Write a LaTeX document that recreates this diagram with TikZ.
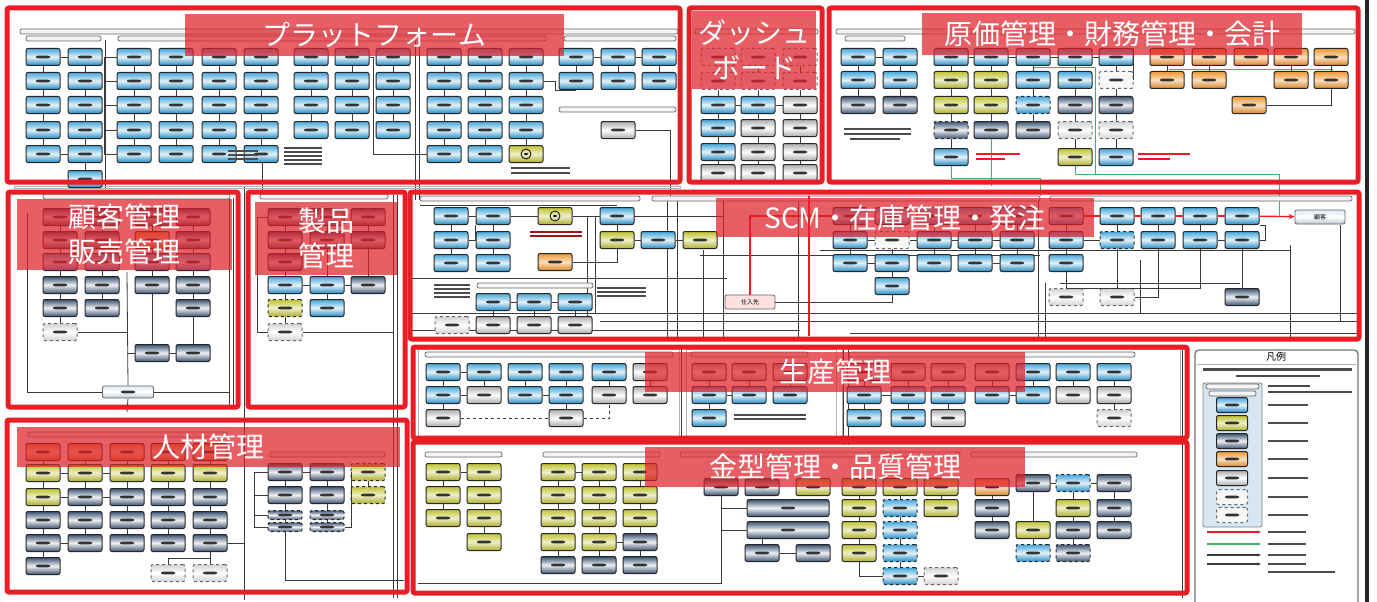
\documentclass[tikz,border=0pt]{standalone}
\usepackage{fontspec}
\setmainfont{Noto Sans CJK JP}
\usetikzlibrary{arrows.meta,calc}
\pgfdeclarelayer{bg}
\pgfsetlayers{bg,main}
\definecolor{frc}{HTML}{E61E25}
\definecolor{bnc}{HTML}{E0202A}
\definecolor{blc}{HTML}{2496D4}
\definecolor{yec}{HTML}{BFC22E}
\definecolor{nvc}{HTML}{3B5272}
\definecolor{orc}{HTML}{EE9530}
\definecolor{gyc}{HTML}{ACACAC}
\definecolor{lnc}{HTML}{3A3A3A}
\definecolor{grc}{HTML}{3DB36B}
\definecolor{lbc}{HTML}{D6E6F2}
\tikzset{
 x=1pt,y=-1pt,
 fake/.style={path picture={\fill[black!80] ($(path picture bounding box.center)+(-7,-1.3)$) rectangle ($(path picture bounding box.center)+(7,1.3)$);}},
 bx/.style={draw=black!85, line width=1pt, rounded corners=2pt, minimum width=34pt, minimum height=17pt, inner sep=0pt, fake},
 B/.style={bx, top color=blc!85, bottom color=blc!92!black, middle color=blc!12},
 Y/.style={bx, top color=yec, bottom color=yec!90!black, middle color=yec!25},
 N/.style={bx, top color=nvc, bottom color=nvc, middle color=white!92!nvc},
 O/.style={bx, top color=orc, bottom color=orc!90!black, middle color=orc!30},
 G/.style={bx, top color=gyc, bottom color=gyc, middle color=white},
 W/.style={bx, dashed, draw=black!60, fill=gray!6},
 D/.style={bx, dashed, draw=black!60, top color=gray!35, bottom color=gray!35, middle color=white},
 DB/.style={B, dashed},
 DN/.style={N, dashed},
 DY/.style={Y, dashed},
 Ns/.style={DN, minimum height=9pt},
 Nw/.style={N, minimum width=82pt},
 YC/.style={bx, top color=yec, bottom color=yec!90!black, middle color=yec!25,
   path picture={\draw[black, line width=0.8pt] (path picture bounding box.center) circle (5pt);
   \fill[black] ($(path picture bounding box.center)+(-2,-1)$) rectangle ($(path picture bounding box.center)+(2,1)$);}},
 supp/.style={draw=black!60, line width=0.8pt, rounded corners=2pt, fill=red!12, minimum width=50pt, minimum height=14pt, inner sep=0pt, font=\fontsize{6}{7}\selectfont},
 cust/.style={supp, top color=lbc!80, bottom color=lbc!70!gray, middle color=white},
 cn/.style={draw=lnc, line width=0.8pt},
 gl/.style={draw=grc, line width=1pt},
 rl/.style={draw=frc, line width=1.4pt},
 frm/.style={draw=frc, line width=5pt, rounded corners=2pt},
 ban/.style={fill=bnc, fill opacity=0.72, text opacity=1, text=white, inner sep=0pt, font=\fontsize{28}{35}\selectfont, align=center},
 hbar/.style={draw=black!60, fill=gray!8, line width=0.7pt, rounded corners=2pt},
 gfr/.style={draw=gray!60, line width=0.8pt},
 ftx/.style={fill=black!70},
}
\newcommand\bcol[3]{%
  \foreach \yy/\st [count=\k] in {#3}{%
    \node[\st] (#1-\k) at (#2,\yy) {};
    \ifnum\k>1
      \pgfmathtruncatemacro\pk{\k-1}%
      \draw[cn] (#1-\pk) -- (#1-\k);
    \fi
  }}
\newcommand\wire[3]{\coordinate (#1a) at (#2); \coordinate (#1b) at (#3); \draw[cn] (#1a) -- (#1b);}
\begin{document}
\begin{tikzpicture}
\useasboundingbox (0,0) rectangle (1377,602);
\begin{pgfonlayer}{bg}
\fill[white] (0,0) rectangle (1377,602);
\end{pgfonlayer}

% ---------- header bars ----------
\draw[hbar] (20,29) rectangle (678,34);
\draw[hbar] (26,36) rectangle (101,41);
\draw[hbar] (118,36) rectangle (546,41);
\draw[hbar] (564,36) rectangle (676,41);
\draw[hbar] (559,107) rectangle (676,112);
\draw[hbar] (695,29) rectangle (818,34);
\draw[hbar] (836,29) rectangle (1355,34);
\draw[hbar] (845,36) rectangle (905,41);
\draw[hbar] (43,194) rectangle (230,199);
\draw[hbar] (260,194) rectangle (388,199);
\draw[hbar] (420,196) rectangle (640,201);
\draw[hbar] (652,196) rectangle (1040,201);
\draw[hbar] (1050,196) rectangle (1352,201);
\draw[hbar] (477,283) rectangle (593,288);
\draw[hbar] (425,352) rectangle (673,357);
\draw[hbar] (691,352) rectangle (808,357);
\draw[hbar] (849,352) rectangle (1135,357);
\draw[hbar] (425,452) rectangle (502,457);
\draw[hbar] (543,452) rectangle (660,457);
\draw[hbar] (680,452) rectangle (960,457);
\draw[hbar] (971,452) rectangle (1137,457);
\draw[hbar] (28,432) rectangle (227,437);
\draw[hbar] (270,452) rectangle (385,457);

% gray group frames
\draw[gfr] (418,349) rectangle (679,437);
\draw[gfr] (686,349) rectangle (836,437);
\draw[gfr] (842,349) rectangle (1180,437);
\draw[gfr] (14,186) rectangle (680,188);

% ---------- platform ----------
\bcol{P1}{43}{57/B,81/B,105/B,130/B,154/B}
\bcol{P2}{85}{57/B,81/B,105/B,130/B,154/B,179/B}
\bcol{P3}{134}{57/B,81/B,105/B,130/B,154/B}
\bcol{P4}{176}{57/B,81/B,105/B,130/B,154/B}
\bcol{P5}{219}{57/B,81/B,105/B,130/B,154/B}
\bcol{P6}{261}{57/B,81/B,105/B,130/B,154/B}
\bcol{P7}{311}{57/B,81/B,105/B,130/B}
\bcol{P8}{352}{57/B,81/B,105/B,130/B}
\bcol{P9}{393}{57/B,81/B,105/B,130/B}
\bcol{P10}{444}{57/B,81/B,105/B,130/B,154/B}
\bcol{P11}{485}{57/B,81/B,105/B,130/B,154/B}
\bcol{P12}{526}{57/B,81/B,105/B,130/B,154/YC}
\bcol{P13}{576}{57/B,81/B}
\bcol{P14}{618}{57/B,81/B}
\bcol{P15}{659}{57/B,81/B}
\node[G] (P16) at (618,130) {};
\draw[cn] (P1-1) -- (P2-1);
\draw[cn] (P1-5) -- (P2-5);
\draw[cn] (P13-1) -- (P14-1);
\draw[cn] (P14-1) -- (P15-1);
\draw[cn] (P3-1.west) -- ++(-12,0) |- (P3-5.west);
\draw[cn] (P3-2.west) -- ++(-12,0);
\draw[cn] (P3-3.west) -- ++(-12,0);
\draw[cn] (P3-4.west) -- ++(-12,0);
\draw[cn] (P8-1.east) -- ++(4,0) |- (P10-5.west);
\draw[cn] (P12-2.east) -- ++(12,0) |- (P13-2.south);
\foreach \yy in {147,151,155,159,163}{\fill[ftx] (284,\yy) rectangle (322,\yy+2);}
\foreach \yy in {167,172}{\fill[ftx] (511,\yy) rectangle (570,\yy+2);}
\foreach \yy in {150,154,158}{\fill[ftx] (228,\yy) rectangle (258,\yy+2);}

% ---------- dashboard ----------
\bcol{D1}{718}{57/W,81/W,105/B,128/B,152/B,173/G}
\bcol{D2}{758}{57/W,81/W,105/B,128/G,152/G,173/G}
\bcol{D3}{800}{57/W,81/W,105/G,128/G,152/G,173/G}
\draw[cn] (D1-3) -- (D2-3);
\draw[cn] (D2-3) -- (D3-3);

% ---------- cost / finance ----------
\bcol{C1}{858}{57/B,80/B,105/N}
\bcol{C2}{900}{57/B,80/B,105/N}
\bcol{C3}{951}{57/B,80/Y,105/Y,130/DN,157/B}
\bcol{C4}{991}{57/B,80/Y,105/Y,130/N}
\bcol{C5}{1033}{57/B,80/B,105/DB,130/N}
\bcol{C6}{1075}{57/B,80/B,105/N,130/D,157/Y}
\bcol{C7}{1116}{57/B,80/W,105/N,130/D,157/B}
\bcol{C8}{1167}{57/O,80/O}
\bcol{C9}{1209}{57/O,80/O}
\node[O] (C10) at (1251,57) {};
\bcol{C11}{1291}{57/O,80/O}
\bcol{C12}{1331}{57/O,80/O}
\node[O] (C13) at (1249,105) {};
\draw[cn] (C1-1) -- (C2-1);
\draw[cn] (C3-1) -- (C4-1);
\draw[cn] (C4-1) -- (C5-1);
\draw[cn] (C5-1) -- (C6-1);
\draw[cn] (C6-1) -- (C7-1);
\draw[cn] (C13.east) -| (C12-2.south);
\draw[cn] (C7-2.east) -| (C7-1.north east);
\foreach \yy in {128,133}{\fill[ftx] (844,\yy) rectangle (911,\yy+2);}
\foreach \yy in {138}{\fill[ftx] (850,\yy) rectangle (900,\yy+2);}
\fill[frc] (976,153) rectangle (1020,155);
\fill[frc] (976,158) rectangle (1005,160);
\fill[frc] (1138,153) rectangle (1190,155);
\fill[frc] (1138,158) rectangle (1170,160);

% ---------- customer / sales ----------
\bcol{A1}{60}{217/N,240/N,262/B,285/N,308/N,332/D}
\bcol{A2}{102}{217/N,240/N,262/B,285/N,308/N}
\bcol{A3}{152}{217/N,240/O,262/B,285/N,353/N}
\bcol{A4}{193}{217/N,240/N,262/B,285/N,308/N,353/N}
\node[cust, fake, minimum width=51pt, minimum height=12pt] (A5) at (128,392) {};
\draw[cn] (A3-5) -- (A4-6);

% ---------- product ----------
\bcol{E1}{285}{217/N,240/N,262/N,285/B,308/DY,332/D}
\bcol{E2}{327}{217/N,240/N,285/B,308/B}
\bcol{E3}{368}{217/N,240/N,285/N}
\draw[cn] (E1-4) -- (E2-3);
\draw[cn] (E2-3) -- (E3-3);

% ---------- SCM ----------
\bcol{S1}{451}{216/B,240/B,263/B}
\bcol{S2}{493}{216/B,240/B,263/B}
\node[YC] (S3) at (555,216) {};
\node[O] (S4) at (555,262) {};
\bcol{S5}{617}{216/B,240/Y}
\node[B] (S6) at (658,240) {};
\node[Y] (S7) at (700,240) {};
\bcol{S8}{493}{302/B,325/G}
\bcol{S9}{534}{302/B,325/G}
\bcol{S10}{575}{302/B,325/G}
\node[D] (S11) at (452,325) {};
\node[supp] (S12) at (750,302) {仕入先};
\bcol{S13}{850}{216/B,240/B,263/B}
\bcol{S14}{892}{216/B,240/W,263/B,286/B}
\bcol{S15}{934}{216/B,240/B,263/B}
\bcol{S16}{975}{216/B,240/B,263/B}
\bcol{S17}{1017}{216/B,240/B,263/B}
\bcol{S18}{1066}{216/B,240/B,263/B,297/D}
\bcol{S19}{1117}{216/B,240/DB,297/D}
\bcol{S20}{1158}{216/B,240/B}
\bcol{S21}{1200}{216/B,240/B}
\bcol{S22}{1242}{216/B,240/B,297/N}
\node[cust] (S23) at (1320,217) {顧客};
\draw[cn] (S1-1) -- (S2-1);
\draw[cn] (S1-2) -| (S2-1.south west);
\draw[cn] (S2-1) -- (S3);
\draw[cn] (S3) -- (S5-1);
\draw[cn] (S5-2) -- (S6);
\draw[cn] (S6) -- (S7);
\draw[cn] (S8-1) -- (S9-1);
\draw[cn] (S9-1) -- (S10-1);
\draw[cn] (S4.east) -| (S5-2.south);
\draw[cn] (S13-2) -- (S14-2);
\draw[cn] (S14-2) -- (S15-2);
\draw[cn] (S15-2) -- (S16-2);
\draw[cn] (S16-2) -- (S17-2);
\draw[cn] (S13-3) -- (S14-3);
\draw[cn] (S16-3) -- (S17-3);
\draw[cn] (S12.east) -| (S14-4.south);
\draw[cn] (S18-2) -- (S19-2);
\draw[cn] (S21-2) -- (S22-2);
\draw[cn] (S22-2.east) -- ++(6,0) |- (S22-1.south east);
\draw[cn] (S20-2.south) |- (S19-3.east);
\draw[cn] (S21-2.south) |- (S18-4.north);
\foreach \yy in {231,235}{\fill[frc!70!black] (530,\yy) rectangle (582,\yy+2);}
\foreach \yy in {284,288,292,296}{\fill[ftx] (434,\yy) rectangle (470,\yy+2);}
\foreach \yy in {287,291,295}{\fill[ftx] (597,\yy) rectangle (646,\yy+2);}
\draw[rl] (S18-1) -- (S19-1);
\draw[rl] (S19-1) -- (S20-1);
\draw[rl] (S20-1) -- (S21-1);
\draw[rl] (S21-1) -- (S22-1);
\draw[rl,-{Stealth[length=6pt,width=5pt]}] (S22-1) -- (S23);
\draw[rl] (S12.north) |- (S13-1.west);

% ---------- production ----------
\bcol{M1}{443}{372/B,395/B,418/G}
\bcol{M2}{484}{372/B,395/G}
\bcol{M3}{525}{372/B,395/B}
\bcol{M4}{566}{372/B,395/B,418/G}
\bcol{M5}{609}{372/B,395/G}
\bcol{M6}{650}{372/G,395/G}
\bcol{M7}{709}{372/G,395/B,418/B}
\bcol{M8}{749}{372/G,395/B}
\bcol{M9}{790}{372/G,395/B}
\bcol{M10}{864}{372/G,395/B,418/B}
\bcol{M11}{908}{372/G,395/B,418/B}
\bcol{M12}{948}{372/G,395/B,418/G}
\bcol{M13}{992}{372/G,395/B}
\bcol{M14}{1033}{372/B,395/B}
\bcol{M15}{1073}{372/B,395/G}
\bcol{M16}{1114}{372/B,395/G,418/D}
\draw[cn] (M1-1) -- (M2-1);
\draw[cn] (M1-2) -- (M2-2);
\draw[cn] (M3-2) -- (M4-2);
\draw[cn,dashed] (M1-3) -- (M4-3);
\draw[cn,dashed] (M4-3) -| (M5-2);
\draw[cn] (M7-2) -- (M8-2);
\draw[cn] (M10-2) -- (M11-2);
\draw[cn] (M13-2) -- (M14-2);
\foreach \yy in {414,418}{\fill[ftx] (734,\yy) rectangle (806,\yy+2);}

% ---------- mold / quality ----------
\bcol{K1}{443}{472/Y,495/Y,518/Y}
\bcol{K2}{484}{472/Y,495/Y,518/Y,542/Y}
\bcol{K3}{558}{472/Y,495/Y,518/Y,542/Y,565/N}
\bcol{K4}{599}{472/Y,495/Y,518/Y,542/Y,565/N}
\bcol{K5}{640}{472/Y,495/Y,518/Y,542/N,565/N}
\node[N] (K6) at (721,487) {};
\node[N] (K7) at (762,487) {};
\node[Y] (K8) at (813,487) {};
\node[Nw] (K9) at (788,508) {};
\node[Nw] (K10) at (788,530) {};
\node[N] (K11) at (762,553) {};
\node[N] (K12) at (813,553) {};
\bcol{K13}{859}{487/Y,508/Y,530/Y,553/Y}
\bcol{K14}{900}{487/Y,508/DB,530/DB,553/DB,576/DB}
\bcol{K15}{941}{487/Y,508/Y}
\node[D] (K16) at (941,576) {};
\bcol{K17}{992}{487/O,508/N,530/N}
\bcol{K18}{1033}{483/N,530/Y,553/DB}
\bcol{K19}{1073}{483/DB,508/Y,530/N,553/DN}
\bcol{K20}{1114}{483/N,508/N,530/N}
\draw[cn] (K1-1) -- (K2-1);
\draw[cn] (K3-1) -- (K4-1);
\draw[cn] (K4-4) -- (K5-4);
\draw[cn] (K6.south) |- (K9.west);
\draw[cn] (K6.south) |- (K10.west);
\draw[cn] (K11) -- (K12);
\draw[cn] (K10.south -| K11) -- (K11);
\draw[cn] (K13-4.south) |- (K14-5.west);
\draw[cn] (K14-5) -- (K16);
\draw[cn] (K18-1) -- (K19-1);
\draw[cn] (K19-1) -- (K20-1);

% ---------- HR ----------
\bcol{H1}{43}{452/O,473/Y,497/Y,520/N,543/N,566/N}
\bcol{H2}{85}{452/O,473/Y,497/N,520/N,543/N}
\bcol{H3}{127}{452/O,473/Y,497/N,520/N,543/N}
\bcol{H4}{168}{452/O,473/Y,497/N,520/N,543/N}
\bcol{H5}{210}{452/O,473/Y,497/N,520/N,543/N}
\node[D] (H6) at (168,573) {};
\node[D] (H7) at (210,573) {};
\bcol{H8}{285}{472/N,495/N,515/Ns,527/Ns}
\bcol{H9}{327}{472/N,495/N,515/Ns,527/Ns}
\bcol{H10}{368}{472/DY,495/DY}
\draw[cn] (H1-2) -- (H2-2);
\draw[cn] (H2-2) -- (H3-2);
\draw[cn] (H1-3) -- (H2-3);
\draw[cn] (H2-3) -- (H3-3);
\draw[cn] (H1-5) -- (H2-5);
\draw[cn] (H8-1) -- (H9-1);
\draw[cn] (H8-1.west) -- ++(-13,0) |- (H8-4.west);
\draw[cn] (H8-2.west) -- ++(-13,0);
\draw[cn] (H8-3.west) -- ++(-13,0);
\draw[cn] (H9-4.east) -- ++(7,0) |- (H10-1.west);

% ---------- long wires (behind) ----------
\begin{pgfonlayer}{bg}
\wire{v1}{229,198}{229,405}
\wire{v2}{233,198}{233,405}
\wire{v3}{244,186}{244,600}
\wire{v4}{393,195}{393,598}
\wire{v5}{397,195}{397,598}
\wire{v6}{105,40}{105,188}
\wire{h1}{412,278}{727,278}
\wire{h2}{412,313}{1358,313}
\wire{h3}{600,321}{1358,321}
\wire{h4}{412,330}{800,330}
\wire{h8}{420,205}{617,205}
\wire{h9}{617,216}{723,216}
\wire{h10}{700,255}{1040,255}
\wire{h11}{820,250}{1290,250}
\wire{h12}{1060,283}{1240,283}
\wire{h13}{850,333}{1358,333}
\wire{v7}{667,200}{667,338}
\wire{v8}{677,200}{677,338}
\wire{v9}{703,250}{703,338}
\wire{v10}{723,200}{723,338}
\wire{v11}{798,200}{798,338}
\wire{v21}{587,216}{587,330}
\wire{v22}{595,216}{595,313}
\wire{v23}{1038,200}{1038,338}
\wire{v24}{1045,283}{1045,338}
\wire{v25}{1290,245}{1290,338}
\wire{v26}{1340,225}{1340,321}
\wire{v27}{1140,260}{1140,313}
\wire{v14}{843,345}{843,445}
\wire{v15}{848,345}{848,445}
\wire{v16}{681,345}{681,440}
\wire{h5}{418,583}{722,583}
\wire{v17}{1182,345}{1182,598}
\wire{v18}{415,40}{415,200}
\wire{v19}{419,40}{419,200}
\wire{v20}{670,130}{670,200}
\wire{h6}{262,162}{262,192}
\wire{h7}{27,213}{27,392}
\draw[cn] (A5.west) -| (h7b);
\draw[cn] (A5.east) -| (v1a);
\coordinate (a6) at (127,272);
\draw[cn] (A5.north) -- (a6);
\draw[cn] (A3-5.west) -- (A3-5.west -| a6);
\draw[cn] (A1-6.east) -- (A1-6.east -| a6);
\coordinate (a7) at (127,412);
\draw[cn] (A5.south) -- (a7);
\draw[cn] (E1-1.west) -- ++(-10,0) |- (E1-6.west);
\draw[cn] (E1-6.east) -- (E1-6.east -| v4a);
\draw[cn] (K6.south) -- (K6.south |- h5a);
\draw[cn] (H5-5.east) -| (v3a);
\draw[cn] (H5-5.south) -- ++(0,6) -| (H6.north);
\draw[cn] (H5-5.south) -- (H7.north);
\coordinate (hh) at (404,580);
\draw[cn] (H8-4.south) |- (hh);
\draw[cn] (P16.east) -| (v20a);
% green lines
\coordinate (g0) at (991,186);
\draw[gl] (C4-1.south) -- (g0);
\coordinate (g1) at (1095,68);
\coordinate (g2) at (1095,174);
\coordinate (g3) at (1279,174);
\coordinate (g4) at (1279,216);
\draw[gl] (C5-1.south) |- (g1) -- (g2) -- (g3) -- (g4);
\coordinate (g5) at (1169,70);
\coordinate (g6) at (1333,70);
\draw[gl] (g5) -- (g6);
\coordinate (g7) at (1040,178);
\coordinate (g8) at (1040,196);
\draw[gl] (C3-5.south) |- (g7) -- (g8);
\draw[gl] (C6-5.south) |- (g2);
\end{pgfonlayer}

% ---------- legend ----------
\node[draw=black!55, line width=1.3pt, rounded corners=4pt, fill=white, minimum width=163pt, minimum height=262pt, inner sep=0pt] (L0) at (1276.5,481) {};
\node[font=\fontsize{10}{12}\selectfont, inner sep=0pt] (L1) at (1276,357) {凡例};
\draw[gfr] (1197,364) -- (1356,364);
\fill[ftx] (1203,368) rectangle (1352,370.5);
\fill[ftx] (1236,375) rectangle (1320,377);
\node[draw=black!50, fill=lbc, rounded corners=2pt, minimum width=59pt, minimum height=144pt, line width=0.8pt, inner sep=0pt] (L2) at (1232.5,455) {};
\draw[hbar] (1206,384) rectangle (1259,389);
\draw[hbar] (1209,391) rectangle (1256,396);
\foreach \yy/\st [count=\k] in {405/B,423/Y,441/N,459/O,478/G,497/W,515/W}{
  \node[\st, minimum width=31pt, minimum height=15pt] (L3-\k) at (1232,\yy) {};
  \fill[ftx] (1268,\yy-1.2) rectangle (1308,\yy+1.2);
}
\fill[ftx] (1268,385) rectangle (1310,387);
\fill[ftx] (1268,391) rectangle (1352,393);
\coordinate (la1) at (1207,532); \coordinate (la2) at (1261,532);
\coordinate (lb1) at (1207,544); \coordinate (lb2) at (1261,544);
\coordinate (lc1) at (1207,555); \coordinate (lc2) at (1261,555);
\coordinate (ld1) at (1207,564); \coordinate (ld2) at (1261,564);
\draw[rl,-{Stealth[length=4pt]}] (la1) -- (la2);
\draw[gl,line width=1.4pt,-{Stealth[length=4pt]}] (lb1) -- (lb2);
\draw[cn,line width=1.4pt,-{Stealth[length=4pt]}] (lc1) -- (lc2);
\draw[cn,line width=1.4pt,-{Stealth[length=4pt]}] (ld1) -- (ld2);
\foreach \yy in {532,544,555,564}{\fill[ftx] (1268,\yy-1) rectangle (1306,\yy+1);}
\fill[ftx] (1268,571) rectangle (1335,573);

% ---------- banners ----------
\node[ban, minimum width=379pt, minimum height=42pt] (BP) at (374.5,35) {プラットフォーム};
\node[ban, minimum width=124pt, minimum height=78pt] (BD) at (754,50) {ダッシュ\\ボード};
\node[ban, minimum width=380pt, minimum height=42pt] (BC) at (1112,34) {原価管理・財務管理・会計};
\node[ban, minimum width=215pt, minimum height=71pt] (BA) at (124.5,234) {顧客管理\\販売管理};
\node[ban, minimum width=142pt, minimum height=73pt] (BE) at (326,238) {製品\\管理};
\node[ban, minimum width=378pt, minimum height=39pt] (BS) at (905,217.5) {SCM・在庫管理・発注};
\node[ban, minimum width=380pt, minimum height=40pt] (BM) at (835,372) {生産管理};
\node[ban, minimum width=380pt, minimum height=40pt] (BK) at (835,467) {金型管理・品質管理};
\node[ban, minimum width=383pt, minimum height=40pt] (BH) at (208.5,447) {人材管理};

% ---------- red frames ----------
\draw[frm] (7,8) rectangle (680,182);
\draw[frm] (689,8) rectangle (822,182);
\draw[frm] (829,8) rectangle (1358,182);
\draw[frm] (8,192) rectangle (238,407);
\draw[frm] (248,192) rectangle (405,407);
\draw[frm] (410,192) rectangle (1359,339);
\draw[frm] (413,347) rectangle (1187,438);
\draw[frm] (413,442) rectangle (1187,593);
\draw[frm] (7,420) rectangle (407,592);
\draw[frc, line width=2.5pt] (809,196) -- (809,336);
\fill[black!85] (1365,0) rectangle (1369,602);
\end{tikzpicture}
\end{document}
